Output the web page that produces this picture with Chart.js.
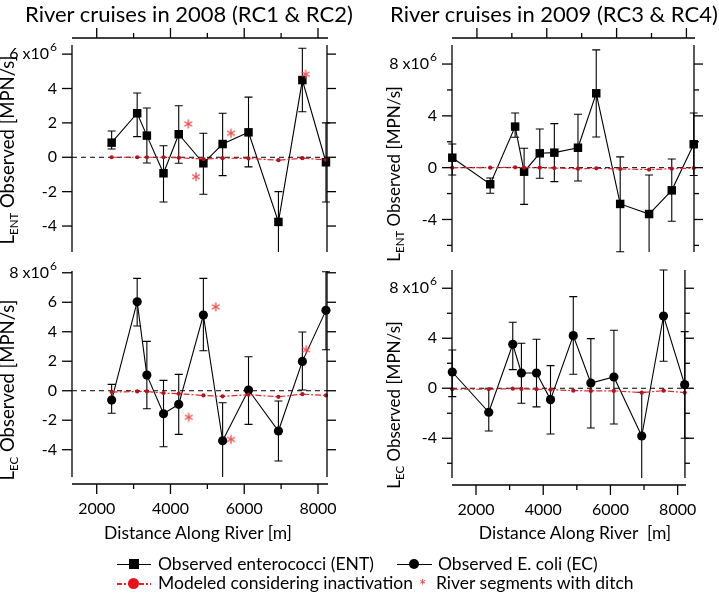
<!DOCTYPE html>
<html>
<head>
<meta charset="UTF-8">
<title>River cruises 2008 / 2009 - observed loads</title>
<script src="https://cdn.jsdelivr.net/npm/chart.js"></script>
<style>
    body { margin: 0; background: #fff; font-family: Lato, sans-serif; color: #000; }
    #wrap { position: relative; width: 719px; height: 599px; overflow: hidden; }
    canvas { position: absolute; left: 0; top: 0; }
    .txt { position: absolute; white-space: nowrap; }
    .ptitle { font-size: 22px; line-height: 28px; top: 0; }
    .xtitle { font-size: 17.5px; line-height: 22px; top: 522px; transform: translateX(-50%); }
    .ytitle { font-size: 18.5px; line-height: 22px; transform: translate(-50%, -50%) rotate(-90deg); }
    .ytitle.r { font-size: 17px; }
    .ytitle sub { font-size: 11.5px; vertical-align: -4px; }
    .leg { font-size: 17.5px; line-height: 20px; transform: translateY(-50%); }
    .ico { position: absolute; }
</style>
</head>
<body>
<div id="wrap">
    <canvas id="cTL" width="719" height="599"></canvas>
    <canvas id="cBL" width="719" height="599"></canvas>
    <canvas id="cTR" width="719" height="599"></canvas>
    <canvas id="cBR" width="719" height="599"></canvas>

    <div class="txt ptitle" style="left:25px">River cruises in 2008 (RC1 &amp; RC2)</div>
    <div class="txt ptitle" style="left:390px">River cruises in 2009 (RC3 &amp; RC4)</div>

    <div class="txt ytitle" style="left:10px;top:150px">L<sub>ENT</sub> Observed [MPN/s]</div>
    <div class="txt ytitle" style="left:10px;top:390px">L<sub>EC</sub> Observed [MPN/s]</div>
    <div class="txt ytitle r" style="left:397px;top:174px">L<sub>ENT</sub> Observed [MPN/s]</div>
    <div class="txt ytitle r" style="left:397px;top:405px">L<sub>EC</sub> Observed [MPN/s]</div>

    <div class="txt xtitle" style="left:198px">Distance Along River [m]</div>
    <div class="txt xtitle" style="left:575px">Distance Along River &nbsp;[m]</div>

    <!-- legend -->
    <div class="ico" style="left:117px;top:564px;width:34px;border-top:1.5px solid #000"></div>
    <div class="ico" style="left:129px;top:559px;width:10px;height:10px;background:#000"></div>
    <div class="txt leg" style="left:158px;top:564px">Observed enterococci (ENT)</div>
    <div class="ico" style="left:397px;top:564px;width:35px;border-top:1.5px solid #000"></div>
    <div class="ico" style="left:409px;top:559px;width:10px;height:10px;border-radius:50%;background:#000"></div>
    <div class="txt leg" style="left:438px;top:564px">Observed E. coli (EC)</div>

    <div class="ico" style="left:117px;top:583px;width:34px;height:1.5px;background:repeating-linear-gradient(to right,#e52222 0 5px,transparent 5px 7px,#e52222 7px 9px,transparent 9px 11px)"></div>
    <div class="ico" style="left:128px;top:578px;width:11px;height:11px;border-radius:50%;background:#e8101a"></div>
    <div class="txt leg" style="left:158px;top:583px">Modeled considering inactivation</div>
    <div class="txt leg" style="left:419px;top:586px;color:#e83a3a">*</div>
    <div class="txt leg" style="left:436px;top:583px">River segments with ditch</div>
</div>

<script>
    // station positions along the river [m]
    const dist2008 = [2405, 3097, 3360, 3811, 4224, 4892, 5414, 6116, 6927, 7576, 8216];
    const dist2009 = [1294, 2380, 3094, 3351, 3800, 4217, 4894, 5417, 6103, 6931, 7580, 8209];

    // 2008 enterococci, x10^6 MPN/s
    const ent2008 = [0.85, 2.56, 1.26, -0.93, 1.34, -0.35, 0.77, 1.45, -3.76, 4.49, -0.29];
    const ent2008Hi = [1.53, 3.74, 2.87, 0.67, 3.0, 1.4, 2.56, 3.5, -2.0, 6.34, 2.0];
    const ent2008Lo = [0.48, 1.2, -0.33, -2.6, -0.35, -2.15, -1.07, -0.56, -5.55, 2.65, -2.6];
    const entModel2008 = [0, 0, 0, 0, -0.03, -0.1, -0.05, -0.07, -0.17, -0.05, -0.15];

    // 2008 E. coli
    const ec2008 = [-0.63, 6.03, 1.06, -1.56, -0.92, 5.13, -3.39, 0.05, -2.73, 1.99, 5.45];
    const ec2008Hi = [0.43, 7.62, 3.35, 0.7, 1.11, 7.62, -0.81, 2.3, -0.7, 3.98, 8.07];
    const ec2008Lo = [-1.53, 4.39, -1.22, -3.8, -2.96, 2.71, -5.99, -2.28, -4.77, 0.05, 2.78];
    const ecModel2008 = [-0.09, -0.05, -0.05, -0.16, -0.2, -0.32, -0.38, -0.27, -0.41, -0.23, -0.32];

    // 2009 enterococci
    const ent2009 = [0.77, -1.28, 3.17, -0.31, 1.11, 1.16, 1.54, 5.74, -2.8, -3.58, -1.75, 1.81];
    const ent2009Hi = [1.83, -0.8, 4.22, 1.5, 2.99, 3.4, 4.12, 9.09, 0.83, -0.56, 0.67, 4.22];
    const ent2009Lo = [-0.56, -1.98, 2.35, -2.83, -0.82, -1.08, -1.03, 2.37, -6.49, -6.56, -4.14, -0.6];
    const entModel2009 = [0, 0, 0.03, 0, 0, -0.03, -0.08, -0.05, -0.1, -0.15, -0.08, -0.03];

    // 2009 E. coli
    const ec2009 = [1.3, -1.92, 3.52, 1.22, 1.22, -0.91, 4.21, 0.42, 0.9, -3.82, 5.78, 0.29];
    const ec2009Hi = [3.06, 0, 5.28, 3.6, 3.92, 1.81, 7.33, 3.97, 4.64, -0.32, 9.46, 4.53];
    const ec2009Lo = [-0.67, -3.42, 1.49, -1.2, -1.49, -3.66, 1.12, -3.18, -2.86, -7.26, 2.16, -4.0];
    const ecModel2009 = [-0.08, -0.08, -0.03, -0.05, -0.08, -0.11, -0.19, -0.21, -0.21, -0.35, -0.19, -0.35];

    // river segments with ditch (asterisks), 2008 only
    const ditchEntX = [4483, 4692, 5641, 7666];
    const ditchEntY = [1.94, -1.13, 1.40, 4.83];
    const ditchEcX = [5226, 4494, 5641, 7683];
    const ditchEcY = [5.69, -1.8, -3.3, 2.78];

    // axis ticks
    const xMajor = [2000, 4000, 6000, 8000];
    const xMinor = [3000, 5000, 7000];
    const yTicks2008 = [-4, -2, 0, 2, 4, 6];
    const yTicksEc2008 = [-4, -2, 0, 2, 4, 6, 8];
    const yMajor2009 = [-4, 0, 4, 8];
    const yMinor2009 = [-6, -2, 2, 6];

    Chart.defaults.font.family = 'Lato';
    Chart.defaults.font.size = 16;
    Chart.defaults.color = '#000';

    // asterisk used as point style
    function starImage() {
        const c = document.createElement('canvas');
        c.width = 12; c.height = 12;
        const g = c.getContext('2d');
        g.strokeStyle = '#f04a4a';
        g.lineWidth = 1.3;
        for (let k = 0; k < 3; k++) {
            const a = Math.PI / 2 + k * Math.PI / 3;
            g.beginPath();
            g.moveTo(6 + 4.5 * Math.cos(a), 6 + 4.5 * Math.sin(a));
            g.lineTo(6 - 4.5 * Math.cos(a), 6 - 4.5 * Math.sin(a));
            g.stroke();
        }
        return c;
    }
    const star = starImage();

    // error bars from the Hi / Lo arrays
    const errorBars = {
        id: 'errorBars',
        beforeDatasetsDraw(chart) {
            const ctx = chart.ctx, xs = chart.scales.x, ys = chart.scales.y, a = chart.chartArea;
            ctx.save();
            ctx.strokeStyle = '#000';
            ctx.lineWidth = 1.1;
            chart.data.datasets.forEach(ds => {
                if (!ds.errHi) return;
                ds.data.forEach((p, i) => {
                    const x = xs.getPixelForValue(p.x);
                    const yh = ys.getPixelForValue(ds.errHi[i]);
                    const yl = ys.getPixelForValue(ds.errLo[i]);
                    const top = Math.max(a.top, yh), bot = Math.min(a.bottom, yl);
                    ctx.beginPath();
                    ctx.moveTo(x, top); ctx.lineTo(x, bot);
                    if (yh >= a.top) { ctx.moveTo(x - 4, yh); ctx.lineTo(x + 4, yh); }
                    if (yl <= a.bottom) { ctx.moveTo(x - 4, yl); ctx.lineTo(x + 4, yl); }
                    ctx.stroke();
                });
            });
            ctx.restore();
        }
    };

    // axis lines, tick marks and the "x10^6" label
    const axes = {
        id: 'axes',
        afterDraw(chart, args, o) {
            const ctx = chart.ctx, a = chart.chartArea, xs = chart.scales.x, ys = chart.scales.y;
            const line = (x1, y1, x2, y2) => { ctx.beginPath(); ctx.moveTo(x1, y1); ctx.lineTo(x2, y2); ctx.stroke(); };
            ctx.save();
            ctx.strokeStyle = '#000';
            ctx.lineWidth = 1.3;
            line(a.left, a.top, a.left, a.bottom);
            line(a.right, a.top, a.right, a.bottom);
            o.yMajor.forEach(v => {
                const y = ys.getPixelForValue(v);
                line(a.left - 10, y, a.left, y);
                line(a.right, y, a.right + 9, y);
            });
            o.yMinor.forEach(v => {
                const y = ys.getPixelForValue(v);
                line(a.left - 5, y, a.left, y);
                line(a.right, y, a.right + 5, y);
            });
            const dir = o.top ? -1 : 1;
            line(a.left, o.hy, a.right + 1, o.hy);
            xMajor.forEach(v => { const x = xs.getPixelForValue(v); line(x, o.hy, x, o.hy + dir * 10); });
            xMinor.forEach(v => { const x = xs.getPixelForValue(v); line(x, o.hy, x, o.hy + dir * 5); });

            const yt = ys.getPixelForValue(o.topLabel);
            const xr = a.left - 15;
            ctx.fillStyle = '#000';
            ctx.textAlign = 'right';
            ctx.textBaseline = 'middle';
            ctx.font = '12px Lato';
            const supW = ctx.measureText('6').width;
            ctx.fillText('6', xr, yt - 7);
            ctx.font = '16px Lato';
            ctx.fillText(o.topLabel + ' x10', xr - supW - 1, yt);
            ctx.restore();
        }
    };

    const pts = (xs, ys) => xs.map((x, i) => ({x: x, y: ys[i]}));

    function makePanel(id, o) {
        const xh = o.top ? 0 : 60;
        const datasets = [
            {
                data: [{x: o.xMin, y: 0}, {x: o.xMax, y: 0}],
                borderColor: '#000', borderWidth: 1, borderDash: [5, 4],
                pointRadius: 0, showLine: true, order: 5
            },
            {
                data: pts(o.x, o.obs), errHi: o.hi, errLo: o.lo,
                borderColor: '#000', borderWidth: 1.1, showLine: true,
                pointStyle: o.marker, pointRadius: o.marker === 'rect' ? 6 : 4.6,
                pointBackgroundColor: '#000', pointBorderColor: '#000', pointBorderWidth: 0,
                clip: false, order: 3
            },
            {
                data: pts(o.x, o.model),
                borderColor: '#e3262b', borderWidth: 1.2, borderDash: [6, 2, 2, 2], showLine: true,
                pointRadius: 2.1, pointBackgroundColor: '#b3141c', pointBorderWidth: 0,
                clip: false, order: 1
            }
        ];
        if (o.starX) {
            datasets.push({
                data: pts(o.starX, o.starY), showLine: false,
                pointStyle: star, pointRadius: 6, clip: false, order: 2
            });
        }
        return new Chart(document.getElementById(id), {
            type: 'scatter',
            data: { datasets: datasets },
            plugins: [errorBars, axes],
            options: {
                responsive: false,
                animation: false,
                events: [],
                layout: { padding: { left: o.area.l - 60, right: 719 - o.area.r, top: o.area.t, bottom: 599 - o.area.b - xh } },
                plugins: {
                    legend: { display: false },
                    tooltip: { enabled: false },
                    axes: { yMajor: o.yMajor, yMinor: o.yMinor, top: o.top, hy: o.hy, topLabel: o.topLabel }
                },
                scales: {
                    x: {
                        type: 'linear', min: o.xMin, max: o.xMax, display: !o.top,
                        grid: { display: false, drawTicks: false }, border: { display: false },
                        ticks: { padding: 22, autoSkip: false, maxRotation: 0, callback: v => String(v) },
                        afterBuildTicks: s => { s.ticks = xMajor.map(v => ({value: v})); },
                        afterFit: s => { s.height = xh; }
                    },
                    y: {
                        type: 'linear', min: o.yMin, max: o.yMax,
                        grid: { display: false, drawTicks: false }, border: { display: false },
                        ticks: { padding: 15, autoSkip: false, callback: v => (v === o.topLabel ? '' : String(v)) },
                        afterBuildTicks: s => { s.ticks = o.yMajor.map(v => ({value: v})); },
                        afterFit: s => { s.width = 60; }
                    }
                }
            }
        });
    }

    makePanel('cTL', {
        area: {l: 72, r: 327, t: 45, b: 252}, top: true, hy: 38,
        xMin: 1330, xMax: 8244, yMin: -5.51, yMax: 6.53,
        yMajor: yTicks2008, yMinor: [], topLabel: 6,
        x: dist2008, obs: ent2008, hi: ent2008Hi, lo: ent2008Lo, model: entModel2008, marker: 'rect',
        starX: ditchEntX, starY: ditchEntY
    });
    makePanel('cBL', {
        area: {l: 72, r: 327, t: 271, b: 477}, top: false, hy: 484,
        xMin: 1330, xMax: 8244, yMin: -5.85, yMax: 8.12,
        yMajor: yTicksEc2008, yMinor: [], topLabel: 8,
        x: dist2008, obs: ec2008, hi: ec2008Hi, lo: ec2008Lo, model: ecModel2008, marker: 'circle',
        starX: ditchEcX, starY: ditchEcY
    });
    makePanel('cTR', {
        area: {l: 452, r: 694, t: 45, b: 252}, top: true, hy: 38,
        xMin: 1286, xMax: 8217, yMin: -6.51, yMax: 9.47,
        yMajor: yMajor2009, yMinor: yMinor2009, topLabel: 8,
        x: dist2009, obs: ent2009, hi: ent2009Hi, lo: ent2009Lo, model: entModel2009, marker: 'rect'
    });
    makePanel('cBR', {
        area: {l: 452, r: 694, t: 270, b: 478}, top: false, hy: 485,
        xMin: 1286, xMax: 8217, yMin: -7.18, yMax: 9.46,
        yMajor: yMajor2009, yMinor: yMinor2009, topLabel: 8,
        x: dist2009, obs: ec2009, hi: ec2009Hi, lo: ec2009Lo, model: ecModel2009, marker: 'circle'
    });
</script>
</body>
</html>
